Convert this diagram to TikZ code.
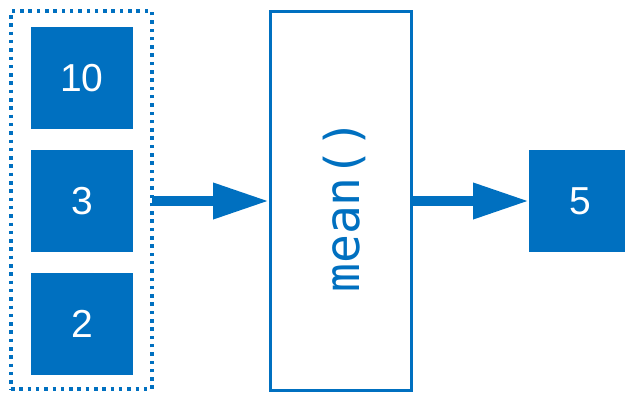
\documentclass[tikz,border=0pt]{standalone}
\usepackage{fontspec}
\setmainfont{Liberation Sans}
\newfontfamily\codefont{DejaVu Sans Mono}
\usetikzlibrary{arrows.meta}
\definecolor{blu}{RGB}{0,112,192}
\tikzset{
  valbox/.style={fill=blu, draw=none, minimum width=102pt, minimum height=102pt, inner sep=0pt, outer sep=0pt, text=white, font=\fontsize{39}{39}\selectfont},
  groupbox/.style={draw=blu, line width=3.5pt, dash pattern=on 3.5pt off 4.8pt, minimum width=141pt, minimum height=378pt, inner sep=0pt, outer sep=0pt},
  funcbox/.style={draw=blu, fill=white, line width=3pt, minimum width=141pt, minimum height=379pt, inner sep=0pt, outer sep=1pt},
  bigarrow/.style={draw=blu, line width=10pt, -{Triangle[length=56pt,width=34pt]}}
}
\begin{document}
\begin{tikzpicture}[x=1pt,y=-1pt]
\useasboundingbox (0,0) rectangle (625,392);
\clip (0,0) rectangle (625,392);
\node[groupbox] (group) at (81.5,200) {};
\node[valbox] (a) at (82,78) {10};
\node[valbox] (b) at (82,201) {3};
\node[valbox] (c) at (82,324) {2};
\node[funcbox] (mean) at (340.5,200.5) {};
\node[rotate=90, text=blu, inner sep=0pt, font=\codefont\fontsize{48}{48}\selectfont] (lbl) at (344,206) {mean()};
\node[valbox] (r) at (580,201) {5};
\draw[bigarrow] (group.east |- b.east) -- (mean.west |- b.east);
\draw[bigarrow] (mean.east |- r.west) -- (r.west);
\end{tikzpicture}
\end{document}
